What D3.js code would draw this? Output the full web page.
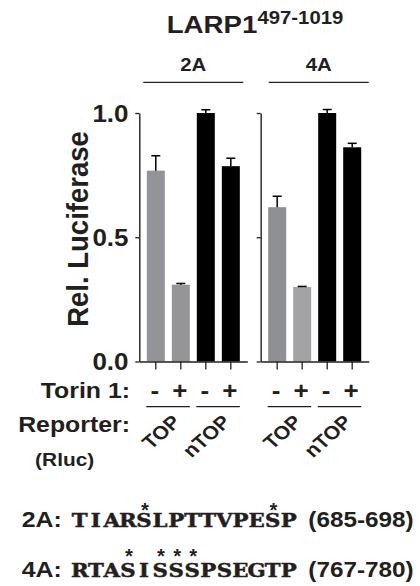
<!DOCTYPE html>
<html><head><meta charset="utf-8">
<script src="https://cdn.jsdelivr.net/npm/d3@7"></script>
<style>
html,body{margin:0;padding:0;background:#fff;}
svg text{font-family:"Liberation Sans",Arial,Helvetica,sans-serif;fill:#231f20;}
</style></head><body>
<svg id="chart" width="420" height="586"></svg>
<script>
// ---- data ----
const panels = ["2A", "4A"];
const categories = ["TOP-", "TOP+", "nTOP-", "nTOP+"];
const torinSigns = ["-", "+", "-", "+"];
const reporters = ["TOP", "nTOP"];
const values2A = [0.768, 0.309, 1.0, 0.786];
const errors2A = [0.060, 0.005, 0.013, 0.032];
const values4A = [0.621, 0.300, 1.0, 0.862];
const errors4A = [0.044, 0.002, 0.014, 0.016];
const yTicks = [0, 0.5, 1.0];
const seqLabels = ["2A:", "4A:"];
const sequences = ["TIARSLPTTVPESP", "RTASISSSPSEGTP"];
const phosphoSites = [[4, 12], [3, 5, 6, 7]];
const ranges = ["(685-698)", "(767-780)"];
const panelValues = [values2A, values4A];
const panelErrors = [errors2A, errors4A];
const barColors = [["#939497", "#959598", "#000", "#000"], ["#8f9093", "#a3a3a6", "#000", "#000"]];

// ---- layout ----
const SX = 1.13; // horizontal text stretch seen in the figure
const svg = d3.select("#chart");
const y = d3.scaleLinear().domain([0, 1]).range([361.5, 113]);
const px = d3.scaleBand().domain(panels).range([139.3, 368.7]).paddingInner(0.11);
const xi = d3.scaleBand().domain(categories).range([0, px.bandwidth()]).paddingInner(0.28).paddingOuter(0.3);

function stext(parent, x, yy, str, size, opts = {}) {
  const t = parent.append("text")
    .attr("transform", `translate(${x},${yy}) scale(${opts.sx || SX},1)` + (opts.rotate ? ` rotate(${opts.rotate})` : ""))
    .attr("font-size", size)
    .attr("font-weight", opts.weight || "bold")
    .attr("text-anchor", opts.anchor || "start")
    .text(str);
  if (opts.family) t.style("font-family", opts.family);
  return t;
}

// title
const title = stext(svg, 166.7, 33, "LARP1", 24.5);
title.append("tspan").attr("font-size", 18).attr("dy", -9).text("497-1019");

panels.forEach((p, pi) => {
  const g = svg.append("g").attr("transform", `translate(${px(p)},0)`);
  const vals = panelValues[pi], errs = panelErrors[pi];

  // header
  stext(g, px.bandwidth() / 2 + pi * 4, 70.7, p, 18, { anchor: "middle" });
  g.append("line").attr("x1", 4 + pi * 4).attr("x2", px.bandwidth() - 4 + pi * 4).attr("y1", 82.3).attr("y2", 82.3)
    .attr("stroke", "#231f20").attr("stroke-width", 1.3);

  // y axis
  const ya = g.append("g").call(d3.axisLeft(y).tickValues(yTicks).tickSize(4).tickSizeOuter(0)
    .tickFormat(pi === 0 ? d3.format(".1f") : ""));
  ya.select(".domain").attr("stroke", "#231f20").attr("stroke-width", 1.4);
  ya.selectAll(".tick line").attr("stroke", "#231f20").attr("stroke-width", 1.3);
  ya.selectAll(".tick text").attr("x", null).attr("dy", null)
    .attr("transform", `translate(-10.8,8) scale(${SX},1)`)
    .attr("font-size", 23).attr("font-weight", "bold").attr("fill", "#231f20")
    .style("font-family", '"Liberation Sans",Arial,sans-serif');

  // bars
  g.selectAll("rect.bar").data(vals).join("rect").attr("class", "bar")
    .attr("x", (d, i) => xi(categories[i])).attr("width", xi.bandwidth())
    .attr("y", d => y(d)).attr("height", d => y(0) - y(d))
    .attr("fill", (d, i) => barColors[pi][i]);

  // error bars
  vals.forEach((v, i) => {
    const cx = xi(categories[i]) + xi.bandwidth() / 2;
    g.append("line").attr("x1", cx).attr("x2", cx).attr("y1", y(v)).attr("y2", y(v + errs[i]))
      .attr("stroke", "#000").attr("stroke-width", 1.5);
    g.append("line").attr("x1", cx - 4.5).attr("x2", cx + 4.5).attr("y1", y(v + errs[i])).attr("y2", y(v + errs[i]))
      .attr("stroke", "#000").attr("stroke-width", 1.5);
  });

  // x axis
  const xa = g.append("g").attr("transform", `translate(0,${y(0)})`)
    .call(d3.axisBottom(xi).tickSize(8).tickSizeOuter(0).tickFormat(""));
  xa.select(".domain").attr("stroke", "#231f20").attr("stroke-width", 1.4);
  xa.selectAll(".tick line").attr("stroke", "#231f20").attr("stroke-width", 1.3);

  // torin signs
  categories.forEach((c, i) => {
    stext(g, xi(c) + xi.bandwidth() / 2 - 1, 398.5, torinSigns[i], 23, { anchor: "middle" });
  });
  // group lines + reporter labels
  reporters.forEach((r, ri) => {
    const a = categories[ri * 2], b = categories[ri * 2 + 1];
    g.append("line").attr("x1", xi(a) - 0.5).attr("x2", xi(b) + xi.bandwidth())
      .attr("y1", 406.7).attr("y2", 406.7).attr("stroke", "#231f20").attr("stroke-width", 1.2);
    stext(g, xi(b) + xi.bandwidth() / 2 + 1, 423, r, 19, { anchor: "end", rotate: -45 });
  });
});

// y-axis title
stext(svg, 87.5, 229, "Rel. Luciferase", 27.5, { anchor: "middle", rotate: -90, sx: 1.05 });

// row labels
stext(svg, 130, 398.3, "Torin 1:", 22, { anchor: "end" });
stext(svg, 130, 431.7, "Reporter:", 22, { anchor: "end" });
stext(svg, 94.3, 466, "(Rluc)", 18.5, { anchor: "end" });

// sequences (slab-serif, monospaced placement)
const seqBase = [526.7, 577];
const charW = 16.07;
const seqSX = 1.12;
const serif = '"DejaVu Serif","Liberation Serif",serif';
sequences.forEach((s, k) => {
  stext(svg, 21.7, seqBase[k], seqLabels[k], 22);
  const t = svg.append("text")
    .attr("transform", `translate(71.7,${seqBase[k]}) scale(${seqSX},1)`)
    .attr("font-size", 19).attr("font-weight", "bold")
    .attr("text-anchor", "middle").attr("stroke", "#231f20").attr("stroke-width", 0.5)
    .style("font-family", serif);
  s.split("").forEach((ch, i) => {
    t.append("tspan").attr("x", (i + 0.5) * charW / seqSX).text(ch);
  });
  phosphoSites[k].forEach(idx => {
    stext(svg, 71.7 + (idx + 0.5) * charW + 1, seqBase[k] - 9 - k * 4, "*", 20,
      { anchor: "middle", sx: 1.0, family: '"Liberation Mono","Courier New",monospace' });
  });
  stext(svg, 308.3, seqBase[k], ranges[k], 21.5);
});
</script>
</body></html>
